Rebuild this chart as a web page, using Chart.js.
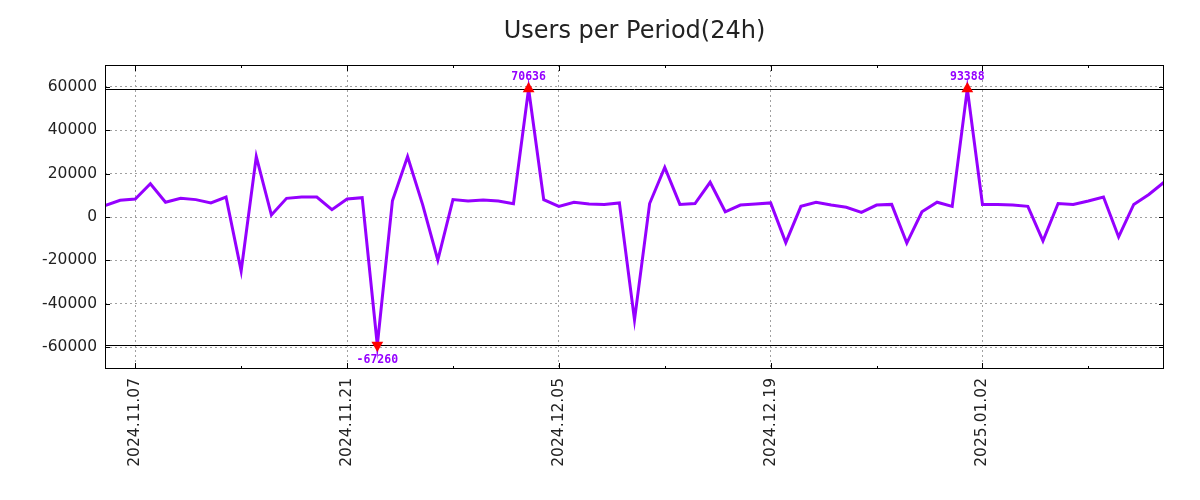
<!DOCTYPE html>
<html>
<head>
<meta charset="utf-8">
<script src="https://cdn.jsdelivr.net/npm/chart.js@4.4.1/dist/chart.umd.min.js"></script>
<style>
  html, body { margin: 0; padding: 0; background: #fff; }
  #wrap { width: 1200px; height: 500px; }
</style>
</head>
<body>
<div id="wrap"><canvas id="chart" width="1200" height="500"></canvas></div>
<script>
const chartTitle = 'Users per Period(24h)';

const dates = [
  '2024.11.05','2024.11.06','2024.11.07','2024.11.08','2024.11.09','2024.11.10','2024.11.11','2024.11.12',
  '2024.11.13','2024.11.14','2024.11.15','2024.11.16','2024.11.17','2024.11.18','2024.11.19','2024.11.20',
  '2024.11.21','2024.11.22','2024.11.23','2024.11.24','2024.11.25','2024.11.26','2024.11.27','2024.11.28',
  '2024.11.29','2024.11.30','2024.12.01','2024.12.02','2024.12.03','2024.12.04','2024.12.05','2024.12.06',
  '2024.12.07','2024.12.08','2024.12.09','2024.12.10','2024.12.11','2024.12.12','2024.12.13','2024.12.14',
  '2024.12.15','2024.12.16','2024.12.17','2024.12.18','2024.12.19','2024.12.20','2024.12.21','2024.12.22',
  '2024.12.23','2024.12.24','2024.12.25','2024.12.26','2024.12.27','2024.12.28','2024.12.29','2024.12.30',
  '2024.12.31','2025.01.01','2025.01.02','2025.01.03','2025.01.04','2025.01.05','2025.01.06','2025.01.07',
  '2025.01.08','2025.01.09','2025.01.10','2025.01.11','2025.01.12','2025.01.13','2025.01.14'
];

const users = [
  5200, 7700, 8300, 15300, 6800, 8600, 8000, 6500,
  9200, -24800, 27800, 900, 8600, 9200, 9200, 3400,
  8300, 8900, -67260, 7500, 27800, 5600, -19800, 8000,
  7400, 7800, 7400, 6100, 70636, 8000, 4900, 6800,
  6000, 5800, 6500, -47400, 6200, 22800, 5800, 6200,
  16000, 2400, 5500, 6000, 6500, -11800, 4900, 6800,
  5500, 4500, 2100, 5500, 5800, -12000, 2400, 6800,
  4900, 93388, 5800, 5800, 5500, 4900, -11000, 6200,
  5800, 7400, 9200, -9200, 5800, 10400, 16000
];

const xTickLabels = ['2024.11.07', '2024.11.21', '2024.12.05', '2024.12.19', '2025.01.02'];
const xMinorLabels = ['2024.11.14', '2024.11.28', '2024.12.12', '2024.12.26', '2025.01.09'];
const yTicks = [-60000, -40000, -20000, 0, 20000, 40000, 60000];
const yMin = -70000;
const yMax = 70000;
const clipLevel = 59000;

const lineColor = '#9500ff';
const textColor = '#222';
const font = 'DejaVu Sans';

const shown = users.map((v, i) => ({ x: i, y: Math.max(-clipLevel, Math.min(clipLevel, v)) }));
const isClipped = i => Math.abs(users[i]) > clipLevel;

const decor = {
  id: 'decor',
  beforeDatasetsDraw(chart) {
    const { ctx, chartArea: a, scales: { y } } = chart;
    ctx.save();
    ctx.strokeStyle = '#000';
    ctx.lineWidth = 1;
    [clipLevel, -clipLevel].forEach(v => {
      const py = Math.round(y.getPixelForValue(v)) + 0.5;
      ctx.beginPath();
      ctx.moveTo(a.left, py);
      ctx.lineTo(a.right, py);
      ctx.stroke();
    });
    ctx.restore();
  },
  afterDatasetsDraw(chart) {
    const { ctx, chartArea: a, scales: { x, y } } = chart;
    ctx.save();
    ctx.strokeStyle = '#000';
    ctx.lineWidth = 1;
    ctx.strokeRect(a.left + 0.5, a.top + 0.5, a.right - a.left - 1, a.bottom - a.top - 1);

    // inward tick marks, mirrored on top and right
    const xt = (label, len) => {
      const px = Math.round(x.getPixelForValue(dates.indexOf(label))) + 0.5;
      ctx.beginPath();
      ctx.moveTo(px, a.bottom); ctx.lineTo(px, a.bottom - len);
      ctx.moveTo(px, a.top); ctx.lineTo(px, a.top + len);
      ctx.stroke();
    };
    xTickLabels.forEach(l => xt(l, 6));
    xMinorLabels.forEach(l => xt(l, 3));
    yTicks.forEach(v => {
      const py = Math.round(y.getPixelForValue(v)) + 0.5;
      ctx.beginPath();
      ctx.moveTo(a.left, py); ctx.lineTo(a.left + 5, py);
      ctx.moveTo(a.right, py); ctx.lineTo(a.right - 5, py);
      ctx.stroke();
    });

    // real values of the clipped points
    const meta = chart.getDatasetMeta(0);
    ctx.fillStyle = lineColor;
    ctx.font = 'bold 11.5px "DejaVu Sans Mono"';
    ctx.textAlign = 'center';
    ctx.textBaseline = 'middle';
    users.forEach((v, i) => {
      if (!isClipped(i)) return;
      const p = meta.data[i];
      ctx.fillText(String(v), p.x, v > 0 ? p.y - 12 : p.y + 15);
    });

    ctx.fillStyle = textColor;
    ctx.font = '24px "' + font + '"';
    ctx.textBaseline = 'alphabetic';
    ctx.fillText(chartTitle, (a.left + a.right) / 2, 38);
    ctx.restore();
  }
};

new Chart(document.getElementById('chart'), {
  type: 'line',
  data: {
    datasets: [{
      data: shown,
      borderColor: lineColor,
      borderWidth: 3,
      tension: 0,
      fill: false,
      pointStyle: 'triangle',
      pointRadius: ctx => isClipped(ctx.dataIndex) ? 6.8 : 0,
      pointRotation: ctx => users[ctx.dataIndex] < 0 ? 180 : 0,
      pointBackgroundColor: '#ff0000',
      pointBorderColor: '#ff0000',
      pointBorderWidth: 0,
      pointHoverRadius: 0
    }]
  },
  options: {
    responsive: false,
    animation: false,
    devicePixelRatio: 1,
    layout: { padding: { top: 65, right: 36, left: 0, bottom: 0 } },
    plugins: { legend: { display: false }, tooltip: { enabled: false }, title: { display: false } },
    events: [],
    scales: {
      x: {
        type: 'linear',
        min: 0,
        max: dates.length - 1,
        afterBuildTicks: s => { s.ticks = xTickLabels.map(l => ({ value: dates.indexOf(l) })); },
        afterFit: s => { s.height = 131; },
        ticks: {
          autoSkip: false,
          minRotation: 90,
          maxRotation: 90,
          padding: 9,
          color: textColor,
          font: { family: font, size: 15.5 },
          callback: v => dates[v]
        },
        grid: { color: '#a0a0a0', lineWidth: 1, drawTicks: false },
        border: { display: false, dash: [2, 3] }
      },
      y: {
        min: yMin,
        max: yMax,
        afterBuildTicks: s => { s.ticks = yTicks.map(v => ({ value: v })); },
        afterFit: s => { s.width = 105; },
        ticks: {
          padding: 8,
          color: textColor,
          font: { family: font, size: 15.5 },
          callback: v => String(v)
        },
        grid: { color: '#a0a0a0', lineWidth: 1, drawTicks: false },
        border: { display: false, dash: [2, 3] }
      }
    }
  },
  plugins: [decor]
});
</script>
</body>
</html>
